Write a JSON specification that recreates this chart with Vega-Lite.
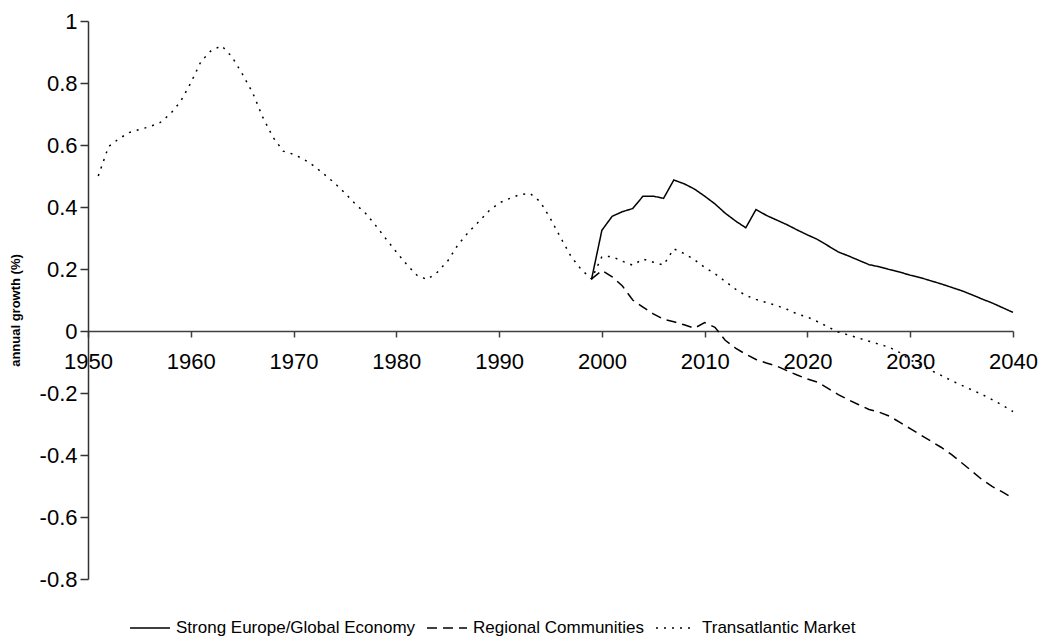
{
  "$schema": "https://vega.github.io/schema/vega-lite/v6.json",
  "width": 925,
  "height": 558,
  "autosize": {"type": "none"},
  "padding": {"left": 88, "top": 21, "right": 26, "bottom": 60},
  "background": "white",
  "config": {"view": {"stroke": null}},
  "data": {
    "values": [
      {"year":1951,"value":0.50,"series":"Transatlantic Market"},
      {"year":1952,"value":0.595,"series":"Transatlantic Market"},
      {"year":1953,"value":0.62,"series":"Transatlantic Market"},
      {"year":1954,"value":0.64,"series":"Transatlantic Market"},
      {"year":1955,"value":0.65,"series":"Transatlantic Market"},
      {"year":1956,"value":0.659,"series":"Transatlantic Market"},
      {"year":1957,"value":0.672,"series":"Transatlantic Market"},
      {"year":1958,"value":0.70,"series":"Transatlantic Market"},
      {"year":1959,"value":0.74,"series":"Transatlantic Market"},
      {"year":1960,"value":0.80,"series":"Transatlantic Market"},
      {"year":1961,"value":0.87,"series":"Transatlantic Market"},
      {"year":1962,"value":0.905,"series":"Transatlantic Market"},
      {"year":1963,"value":0.92,"series":"Transatlantic Market"},
      {"year":1964,"value":0.885,"series":"Transatlantic Market"},
      {"year":1965,"value":0.83,"series":"Transatlantic Market"},
      {"year":1966,"value":0.77,"series":"Transatlantic Market"},
      {"year":1967,"value":0.69,"series":"Transatlantic Market"},
      {"year":1968,"value":0.625,"series":"Transatlantic Market"},
      {"year":1969,"value":0.58,"series":"Transatlantic Market"},
      {"year":1970,"value":0.57,"series":"Transatlantic Market"},
      {"year":1971,"value":0.554,"series":"Transatlantic Market"},
      {"year":1972,"value":0.532,"series":"Transatlantic Market"},
      {"year":1973,"value":0.505,"series":"Transatlantic Market"},
      {"year":1974,"value":0.477,"series":"Transatlantic Market"},
      {"year":1975,"value":0.445,"series":"Transatlantic Market"},
      {"year":1976,"value":0.41,"series":"Transatlantic Market"},
      {"year":1977,"value":0.38,"series":"Transatlantic Market"},
      {"year":1978,"value":0.34,"series":"Transatlantic Market"},
      {"year":1979,"value":0.297,"series":"Transatlantic Market"},
      {"year":1980,"value":0.255,"series":"Transatlantic Market"},
      {"year":1981,"value":0.215,"series":"Transatlantic Market"},
      {"year":1982,"value":0.18,"series":"Transatlantic Market"},
      {"year":1983,"value":0.166,"series":"Transatlantic Market"},
      {"year":1984,"value":0.19,"series":"Transatlantic Market"},
      {"year":1985,"value":0.226,"series":"Transatlantic Market"},
      {"year":1986,"value":0.278,"series":"Transatlantic Market"},
      {"year":1987,"value":0.318,"series":"Transatlantic Market"},
      {"year":1988,"value":0.352,"series":"Transatlantic Market"},
      {"year":1989,"value":0.387,"series":"Transatlantic Market"},
      {"year":1990,"value":0.413,"series":"Transatlantic Market"},
      {"year":1991,"value":0.427,"series":"Transatlantic Market"},
      {"year":1992,"value":0.44,"series":"Transatlantic Market"},
      {"year":1993,"value":0.444,"series":"Transatlantic Market"},
      {"year":1994,"value":0.417,"series":"Transatlantic Market"},
      {"year":1995,"value":0.362,"series":"Transatlantic Market"},
      {"year":1996,"value":0.30,"series":"Transatlantic Market"},
      {"year":1997,"value":0.24,"series":"Transatlantic Market"},
      {"year":1998,"value":0.198,"series":"Transatlantic Market"},
      {"year":1999,"value":0.168,"series":"Transatlantic Market"},
      {"year":2000,"value":0.24,"series":"Transatlantic Market"},
      {"year":2001,"value":0.24,"series":"Transatlantic Market"},
      {"year":2002,"value":0.225,"series":"Transatlantic Market"},
      {"year":2003,"value":0.212,"series":"Transatlantic Market"},
      {"year":2004,"value":0.232,"series":"Transatlantic Market"},
      {"year":2005,"value":0.222,"series":"Transatlantic Market"},
      {"year":2006,"value":0.213,"series":"Transatlantic Market"},
      {"year":2007,"value":0.265,"series":"Transatlantic Market"},
      {"year":2008,"value":0.25,"series":"Transatlantic Market"},
      {"year":2009,"value":0.23,"series":"Transatlantic Market"},
      {"year":2010,"value":0.205,"series":"Transatlantic Market"},
      {"year":2011,"value":0.185,"series":"Transatlantic Market"},
      {"year":2012,"value":0.16,"series":"Transatlantic Market"},
      {"year":2013,"value":0.135,"series":"Transatlantic Market"},
      {"year":2014,"value":0.115,"series":"Transatlantic Market"},
      {"year":2015,"value":0.102,"series":"Transatlantic Market"},
      {"year":2016,"value":0.092,"series":"Transatlantic Market"},
      {"year":2017,"value":0.082,"series":"Transatlantic Market"},
      {"year":2018,"value":0.07,"series":"Transatlantic Market"},
      {"year":2019,"value":0.055,"series":"Transatlantic Market"},
      {"year":2020,"value":0.045,"series":"Transatlantic Market"},
      {"year":2021,"value":0.03,"series":"Transatlantic Market"},
      {"year":2022,"value":0.013,"series":"Transatlantic Market"},
      {"year":2023,"value":-0.003,"series":"Transatlantic Market"},
      {"year":2024,"value":-0.013,"series":"Transatlantic Market"},
      {"year":2025,"value":-0.023,"series":"Transatlantic Market"},
      {"year":2026,"value":-0.033,"series":"Transatlantic Market"},
      {"year":2027,"value":-0.043,"series":"Transatlantic Market"},
      {"year":2028,"value":-0.053,"series":"Transatlantic Market"},
      {"year":2029,"value":-0.07,"series":"Transatlantic Market"},
      {"year":2030,"value":-0.093,"series":"Transatlantic Market"},
      {"year":2031,"value":-0.11,"series":"Transatlantic Market"},
      {"year":2032,"value":-0.127,"series":"Transatlantic Market"},
      {"year":2033,"value":-0.143,"series":"Transatlantic Market"},
      {"year":2034,"value":-0.16,"series":"Transatlantic Market"},
      {"year":2035,"value":-0.175,"series":"Transatlantic Market"},
      {"year":2036,"value":-0.19,"series":"Transatlantic Market"},
      {"year":2037,"value":-0.205,"series":"Transatlantic Market"},
      {"year":2038,"value":-0.222,"series":"Transatlantic Market"},
      {"year":2039,"value":-0.24,"series":"Transatlantic Market"},
      {"year":2040,"value":-0.26,"series":"Transatlantic Market"},

      {"year":1999,"value":0.168,"series":"Strong Europe/Global Economy"},
      {"year":2000,"value":0.325,"series":"Strong Europe/Global Economy"},
      {"year":2001,"value":0.37,"series":"Strong Europe/Global Economy"},
      {"year":2002,"value":0.385,"series":"Strong Europe/Global Economy"},
      {"year":2003,"value":0.395,"series":"Strong Europe/Global Economy"},
      {"year":2004,"value":0.435,"series":"Strong Europe/Global Economy"},
      {"year":2005,"value":0.435,"series":"Strong Europe/Global Economy"},
      {"year":2006,"value":0.428,"series":"Strong Europe/Global Economy"},
      {"year":2007,"value":0.487,"series":"Strong Europe/Global Economy"},
      {"year":2008,"value":0.475,"series":"Strong Europe/Global Economy"},
      {"year":2009,"value":0.458,"series":"Strong Europe/Global Economy"},
      {"year":2010,"value":0.435,"series":"Strong Europe/Global Economy"},
      {"year":2011,"value":0.41,"series":"Strong Europe/Global Economy"},
      {"year":2012,"value":0.38,"series":"Strong Europe/Global Economy"},
      {"year":2013,"value":0.355,"series":"Strong Europe/Global Economy"},
      {"year":2014,"value":0.333,"series":"Strong Europe/Global Economy"},
      {"year":2015,"value":0.392,"series":"Strong Europe/Global Economy"},
      {"year":2016,"value":0.373,"series":"Strong Europe/Global Economy"},
      {"year":2017,"value":0.358,"series":"Strong Europe/Global Economy"},
      {"year":2018,"value":0.343,"series":"Strong Europe/Global Economy"},
      {"year":2019,"value":0.326,"series":"Strong Europe/Global Economy"},
      {"year":2020,"value":0.31,"series":"Strong Europe/Global Economy"},
      {"year":2021,"value":0.295,"series":"Strong Europe/Global Economy"},
      {"year":2022,"value":0.275,"series":"Strong Europe/Global Economy"},
      {"year":2023,"value":0.255,"series":"Strong Europe/Global Economy"},
      {"year":2024,"value":0.242,"series":"Strong Europe/Global Economy"},
      {"year":2025,"value":0.228,"series":"Strong Europe/Global Economy"},
      {"year":2026,"value":0.214,"series":"Strong Europe/Global Economy"},
      {"year":2027,"value":0.207,"series":"Strong Europe/Global Economy"},
      {"year":2028,"value":0.198,"series":"Strong Europe/Global Economy"},
      {"year":2029,"value":0.19,"series":"Strong Europe/Global Economy"},
      {"year":2030,"value":0.18,"series":"Strong Europe/Global Economy"},
      {"year":2031,"value":0.172,"series":"Strong Europe/Global Economy"},
      {"year":2032,"value":0.162,"series":"Strong Europe/Global Economy"},
      {"year":2033,"value":0.152,"series":"Strong Europe/Global Economy"},
      {"year":2034,"value":0.141,"series":"Strong Europe/Global Economy"},
      {"year":2035,"value":0.13,"series":"Strong Europe/Global Economy"},
      {"year":2036,"value":0.117,"series":"Strong Europe/Global Economy"},
      {"year":2037,"value":0.103,"series":"Strong Europe/Global Economy"},
      {"year":2038,"value":0.09,"series":"Strong Europe/Global Economy"},
      {"year":2039,"value":0.075,"series":"Strong Europe/Global Economy"},
      {"year":2040,"value":0.06,"series":"Strong Europe/Global Economy"},

      {"year":1999,"value":0.168,"series":"Regional Communities"},
      {"year":2000,"value":0.195,"series":"Regional Communities"},
      {"year":2001,"value":0.175,"series":"Regional Communities"},
      {"year":2002,"value":0.145,"series":"Regional Communities"},
      {"year":2003,"value":0.10,"series":"Regional Communities"},
      {"year":2004,"value":0.077,"series":"Regional Communities"},
      {"year":2005,"value":0.055,"series":"Regional Communities"},
      {"year":2006,"value":0.038,"series":"Regional Communities"},
      {"year":2007,"value":0.03,"series":"Regional Communities"},
      {"year":2008,"value":0.02,"series":"Regional Communities"},
      {"year":2009,"value":0.009,"series":"Regional Communities"},
      {"year":2010,"value":0.027,"series":"Regional Communities"},
      {"year":2011,"value":0.012,"series":"Regional Communities"},
      {"year":2012,"value":-0.03,"series":"Regional Communities"},
      {"year":2013,"value":-0.055,"series":"Regional Communities"},
      {"year":2014,"value":-0.075,"series":"Regional Communities"},
      {"year":2015,"value":-0.092,"series":"Regional Communities"},
      {"year":2016,"value":-0.103,"series":"Regional Communities"},
      {"year":2017,"value":-0.113,"series":"Regional Communities"},
      {"year":2018,"value":-0.128,"series":"Regional Communities"},
      {"year":2019,"value":-0.142,"series":"Regional Communities"},
      {"year":2020,"value":-0.155,"series":"Regional Communities"},
      {"year":2021,"value":-0.165,"series":"Regional Communities"},
      {"year":2022,"value":-0.185,"series":"Regional Communities"},
      {"year":2023,"value":-0.205,"series":"Regional Communities"},
      {"year":2024,"value":-0.222,"series":"Regional Communities"},
      {"year":2025,"value":-0.238,"series":"Regional Communities"},
      {"year":2026,"value":-0.253,"series":"Regional Communities"},
      {"year":2027,"value":-0.262,"series":"Regional Communities"},
      {"year":2028,"value":-0.275,"series":"Regional Communities"},
      {"year":2029,"value":-0.295,"series":"Regional Communities"},
      {"year":2030,"value":-0.315,"series":"Regional Communities"},
      {"year":2031,"value":-0.335,"series":"Regional Communities"},
      {"year":2032,"value":-0.355,"series":"Regional Communities"},
      {"year":2033,"value":-0.375,"series":"Regional Communities"},
      {"year":2034,"value":-0.398,"series":"Regional Communities"},
      {"year":2035,"value":-0.425,"series":"Regional Communities"},
      {"year":2036,"value":-0.452,"series":"Regional Communities"},
      {"year":2037,"value":-0.48,"series":"Regional Communities"},
      {"year":2038,"value":-0.502,"series":"Regional Communities"},
      {"year":2039,"value":-0.52,"series":"Regional Communities"},
      {"year":2040,"value":-0.54,"series":"Regional Communities"}
    ]
  },
  "mark": {"type": "line", "color": "black", "strokeWidth": 1.5},
  "encoding": {
    "x": {
      "field": "year",
      "type": "quantitative",
      "scale": {"domain": [1950, 2040], "nice": false, "zero": false},
      "axis": {
        "title": null,
        "values": [1950, 1960, 1970, 1980, 1990, 2000, 2010, 2020, 2030, 2040],
        "format": "d",
        "grid": false,
        "offset": -248,
        "domainColor": "#404040",
        "domainWidth": 1.5,
        "tickColor": "#404040",
        "tickWidth": 1.5,
        "tickSize": 6,
        "labelPadding": 14,
        "labelFont": "Liberation Sans",
        "labelFontSize": 22,
        "labelColor": "black",
        "labelFlush": false,
        "labelOverlap": false
      }
    },
    "y": {
      "field": "value",
      "type": "quantitative",
      "scale": {"domain": [-0.8, 1], "nice": false, "zero": false},
      "axis": {
        "title": "annual growth (%)",
        "titleFont": "Liberation Sans",
        "titleFontSize": 13,
        "titleFontWeight": "bold",
        "titleColor": "black",
        "titleX": -73,
        "titleY": 289,
        "titleAlign": "center",
        "titleBaseline": "middle",
        "titleAngle": 270,
        "values": [-0.8, -0.6, -0.4, -0.2, 0, 0.2, 0.4, 0.6, 0.8, 1],
        "labelExpr": "'' + datum.value",
        "grid": false,
        "domainColor": "#333333",
        "domainWidth": 1.5,
        "tickColor": "#333333",
        "tickWidth": 1.5,
        "tickSize": 8,
        "labelPadding": 3,
        "labelFont": "Liberation Sans",
        "labelFontSize": 22,
        "labelColor": "black",
        "labelOverlap": false,
        "labelFlush": false
      }
    },
    "strokeDash": {
      "field": "series",
      "type": "nominal",
      "scale": {
        "domain": ["Strong Europe/Global Economy", "Regional Communities", "Transatlantic Market"],
        "range": [[1, 0], [10, 6], [2, 6]]
      },
      "legend": {
        "title": null,
        "orient": "none",
        "legendX": 41,
        "legendY": 586,
        "direction": "horizontal",
        "padding": 0,
        "symbolType": "stroke",
        "symbolSize": 1600,
        "symbolStrokeWidth": 1.5,
        "symbolStrokeColor": "black",
        "labelFont": "Liberation Sans",
        "labelFontSize": 17,
        "labelColor": "black",
        "labelOffset": 5,
        "labelLimit": 0,
        "columnPadding": 8
      }
    }
  }
}
